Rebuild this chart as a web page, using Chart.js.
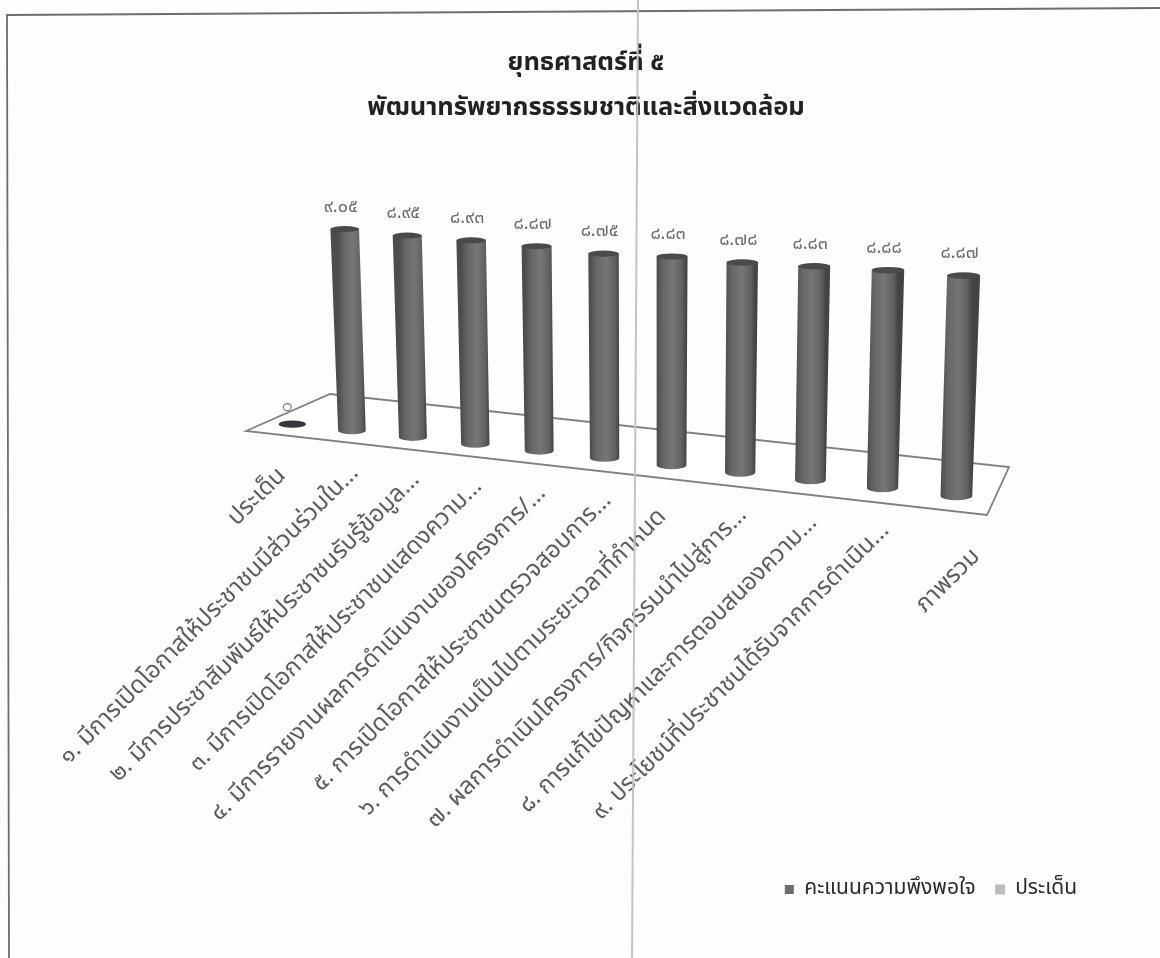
<!DOCTYPE html>
<html>
<head>
<meta charset="utf-8">
<title>ยุทธศาสตร์ที่ ๕</title>
<script src="https://cdn.jsdelivr.net/npm/chart.js@4/dist/chart.umd.min.js"></script>
<style>
  html, body { margin: 0; padding: 0; background: #fdfdfd; overflow: hidden; }
  canvas { display: block; filter: blur(0.35px); }
</style>
</head>
<body>
<canvas id="graph" width="1160" height="958"></canvas>
<script>
// data
const categories = [
  "ประเด็น",
  "๑. มีการเปิดโอกาสให้ประชาชนมีส่วนร่วมใน...",
  "๒. มีการประชาสัมพันธ์ให้ประชาชนรับรู้ข้อมูล...",
  "๓. มีการเปิดโอกาสให้ประชาชนแสดงความ...",
  "๔. มีการรายงานผลการดำเนินงานของโครงการ/...",
  "๕. การเปิดโอกาสให้ประชาชนตรวจสอบการ...",
  "๖. การดำเนินงานเป็นไปตามระยะเวลาที่กำหนด",
  "๗. ผลการดำเนินโครงการ/กิจกรรมนำไปสู่การ...",
  "๘. การแก้ไขปัญหาและการตอบสนองความ...",
  "๙. ประโยชน์ที่ประชาชนได้รับจากการดำเนิน...",
  "ภาพรวม"
];
const satisfaction = [0, 9.05, 8.95, 8.93, 8.87, 8.75, 8.83, 8.78, 8.83, 8.88, 8.87];
const issueSeries = [0, null, null, null, null, null, null, null, null, null, null];
const seriesNames = ["คะแนนความพึงพอใจ", "ประเด็น"];
const titleLines = ["ยุทธศาสตร์ที่ ๕", "พัฒนาทรัพยากรธรรมชาติและสิ่งแวดล้อม"];

const FONT = "Tahoma, 'Noto Sans Thai', 'Noto Sans', sans-serif";
const thaiDigits = "๐๑๒๓๔๕๖๗๘๙";

// the old chart was a 3D one, so scale pixels get pushed through a perspective
const PERSP = 1.14;
const floorBase = { x0: 263, y0: 421, x1: 994, y1: 500 }; // where value 0 meets the floor edges
const unitPx = { left: 21.9, right: 25 };                 // pixels per value unit, both ends
const backShift = { left: [67, -27], right: [15, -33] };  // floor edge, front line to back
const frontShift = { left: [-17, 10], right: [-7, 15] };
const seriesShift = [[0, 0], [-5, -17]];                  // second series stands behind the first
const barGain = { left: 0.69, right: 0.82 };              // bar width on screen vs bar width on scale

let chart;
let drawingIndex = 0; // dataset being drawn right now

function lerp(a, b, t) { return a + (b - a) * t; }

function toThai(text) {
  return text.replace(/[0-9]/g, d => thaiDigits[+d]);
}

function depthT(px) {
  const area = chart.chartArea;
  const u = (px - area.left) / (area.right - area.left);
  return u / (u + (1 - u) * PERSP);
}

// px on the category scale + value on the y scale -> position on the page
function project(px, value) {
  const t = depthT(px);
  const bx = lerp(floorBase.x0, floorBase.x1, t);
  const by = lerp(floorBase.y0, floorBase.y1, t);
  const lean = (bx - 650) * 0.024 * value / 9;
  return { x: bx + lean, y: by - lerp(unitPx.left, unitPx.right, t) * value };
}

// bars keep going through the library's draw loop, only the shape changes
Chart.BarElement.prototype.draw = function (ctx) {
  const value = chart.scales.y.getValueForPixel(this.y);
  const shift = seriesShift[drawingIndex];
  const gain = lerp(barGain.left, barGain.right, depthT(this.x));
  const rxBot = this.width / 2 * gain;
  const rxTop = rxBot * 1.04;
  const ryBot = Math.max(rxBot * 0.27, 3.5);
  const ryTop = Math.max(rxTop * 0.2, 3);
  const bc = project(this.x, 0);
  const tc = project(this.x, value);
  bc.x += shift[0]; bc.y += shift[1];
  tc.x += shift[0]; tc.y += shift[1];

  ctx.save();
  if (value < 0.01) { // empty value, only the lid is left
    ctx.beginPath();
    ctx.ellipse(bc.x, bc.y, rxBot, ryBot, 0, 0, Math.PI * 2);
    if (this.options.borderWidth) {
      ctx.fillStyle = "#ffffff";
      ctx.strokeStyle = "#777777";
      ctx.lineWidth = 1.2;
      ctx.fill();
      ctx.stroke();
    } else {
      ctx.fillStyle = "#33383c";
      ctx.fill();
    }
    ctx.restore();
    return;
  }
  const grad = ctx.createLinearGradient(bc.x - rxBot, 0, bc.x + rxBot, 0);
  grad.addColorStop(0, "#4c4c4c");
  grad.addColorStop(0.22, "#666666");
  grad.addColorStop(0.55, "#767676");
  grad.addColorStop(0.85, "#606060");
  grad.addColorStop(1, "#434343");
  ctx.beginPath();
  ctx.moveTo(tc.x - rxTop, tc.y);
  ctx.lineTo(bc.x - rxBot, bc.y);
  ctx.ellipse(bc.x, bc.y, rxBot, ryBot, 0, Math.PI, 0, true);
  ctx.lineTo(tc.x + rxTop, tc.y);
  ctx.closePath();
  ctx.fillStyle = grad;
  ctx.fill();
  ctx.beginPath();
  ctx.ellipse(tc.x, tc.y, rxTop, ryTop, 0, 0, Math.PI * 2);
  ctx.fillStyle = "#484a4c";
  ctx.fill();
  ctx.restore();
};

const floorPlugin = {
  id: "floor",
  beforeInit(c) {
    chart = c; // first draw happens inside the constructor
  },
  beforeDatasetsDraw(c) {
    const ctx = c.ctx;
    const a = c.chartArea;
    // floor corners: front-left, back-left, back-right, front-right
    const fl = project(a.left, 0), fr = project(a.right, 0);
    const pts = [
      [fl.x + frontShift.left[0], fl.y + frontShift.left[1]],
      [fl.x + backShift.left[0], fl.y + backShift.left[1]],
      [fr.x + backShift.right[0], fr.y + backShift.right[1]],
      [fr.x + frontShift.right[0], fr.y + frontShift.right[1]]
    ];
    ctx.save();
    ctx.beginPath();
    pts.forEach((p, i) => i ? ctx.lineTo(p[0], p[1]) : ctx.moveTo(p[0], p[1]));
    ctx.closePath();
    ctx.fillStyle = "#ffffff";
    ctx.fill();
    ctx.strokeStyle = "#808080";
    ctx.lineWidth = 1.8;
    ctx.stroke();
    ctx.restore();
  },
  beforeDatasetDraw(c, args) {
    drawingIndex = args.index;
  }
};

// a few labels sit off the common line in the reference
const labelNudge = { 0: [-13, 9], 6: [-12, 9], 10: [17, 18] };

const textPlugin = {
  id: "texts",
  afterDatasetsDraw(c) {
    const ctx = c.ctx;
    const xs = c.scales.x;
    const meta = c.getDatasetMeta(0);
    ctx.save();
    // value labels above the bars
    ctx.font = "18px " + FONT;
    ctx.fillStyle = "#6a6a6a";
    ctx.textAlign = "center";
    ctx.textBaseline = "middle";
    satisfaction.forEach((v, i) => {
      if (!v) return;
      const p = project(meta.data[i].x, v);
      ctx.fillText(toThai(v.toFixed(2)), p.x - 4, p.y - 21);
    });
    // category labels, rotated along the floor
    ctx.font = "24px " + FONT;
    ctx.fillStyle = "#5c5c5c";
    ctx.textAlign = "right";
    categories.forEach((name, i) => {
      const p = project(xs.getPixelForValue(i), 0);
      const nudge = labelNudge[i] || [0, 0];
      ctx.save();
      ctx.translate(p.x + 4 + nudge[0], p.y + 40 + nudge[1]);
      ctx.rotate(-45 * Math.PI / 180);
      ctx.fillText(xs.getLabelForValue(i), 0, 0);
      ctx.restore();
    });
    ctx.restore();
  }
};

// frame of the scanned page plus the fold line running through it
const pagePlugin = {
  id: "page",
  afterDraw(c) {
    const ctx = c.ctx;
    ctx.save();
    ctx.strokeStyle = "#6d6d6d";
    ctx.lineWidth = 1.8;
    ctx.beginPath();
    ctx.moveTo(9, 958);
    ctx.lineTo(7, 15);
    ctx.lineTo(1160, 8);
    ctx.stroke();
    ctx.strokeStyle = "#c4c4c4";
    ctx.lineWidth = 2;
    ctx.beginPath();
    ctx.moveTo(638, 0);
    ctx.lineTo(632, 958);
    ctx.stroke();
    ctx.restore();
  }
};

new Chart("graph", {
  type: "bar",
  data: {
    labels: categories,
    datasets: [
      {
        label: seriesNames[0],
        data: satisfaction,
        backgroundColor: "#6b6b6b",
        barPercentage: 0.42,
        categoryPercentage: 1
      },
      {
        label: seriesNames[1],
        data: issueSeries,
        backgroundColor: "#bdbdbd",
        borderColor: "#bdbdbd",
        borderWidth: 1,
        barPercentage: 0.12,
        categoryPercentage: 1
      }
    ]
  },
  options: {
    responsive: false,
    animation: false,
    devicePixelRatio: 1,
    layout: { padding: { left: 75, right: 63, top: 42, bottom: 48 } },
    scales: {
      x: { display: false, grid: { display: false } },
      y: { display: false, min: 0, max: 10, grid: { display: false } }
    },
    datasets: { bar: { grouped: false } },
    plugins: {
      title: {
        display: true,
        text: titleLines,
        fullSize: false,
        color: "#222222",
        font: { family: FONT, size: 25.5, weight: "bold", lineHeight: 1.78 },
        padding: 0
      },
      legend: {
        position: "bottom",
        align: "end",
        fullSize: false,
        labels: {
          boxWidth: 9,
          boxHeight: 9,
          padding: 20,
          color: "#2a2a2a",
          font: { family: FONT, size: 21 }
        }
      },
      tooltip: { enabled: false }
    }
  },
  plugins: [floorPlugin, textPlugin, pagePlugin]
});
</script>
</body>
</html>
